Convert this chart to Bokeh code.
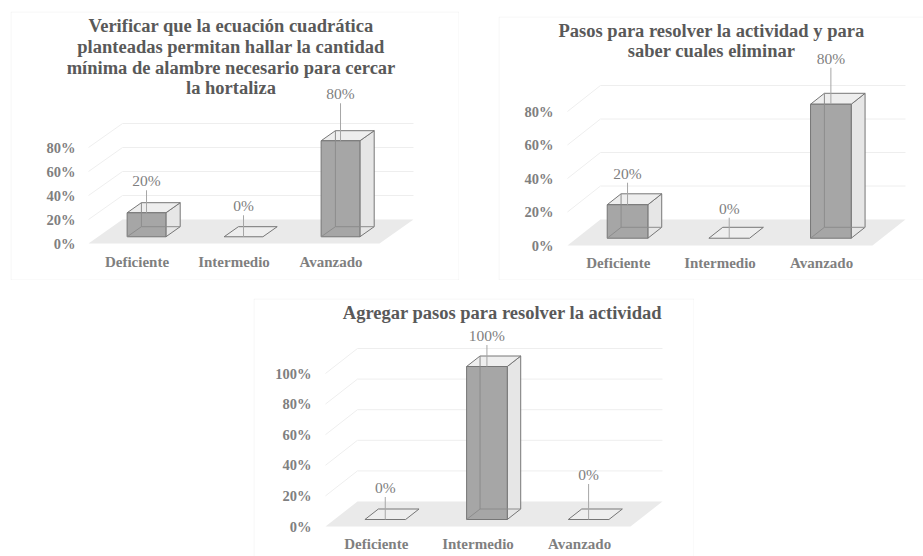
from bokeh.plotting import figure
from bokeh.models import (ColumnDataSource, FixedTicker, NumeralTickFormatter, Range1d,
                          LabelSet, Label, BoxAnnotation, Spacer)
from bokeh.layouts import row, column
from bokeh.core.properties import value
from bokeh.embed import file_html
from bokeh.resources import INLINE

# ---------------- data ----------------
categories = ["Deficiente", "Intermedio", "Avanzado"]

values_1 = [0.20, 0.00, 0.80]
values_2 = [0.20, 0.00, 0.80]
values_3 = [0.00, 1.00, 0.00]

ticks_1 = [0.0, 0.2, 0.4, 0.6, 0.8]
ticks_2 = [0.0, 0.2, 0.4, 0.6, 0.8]
ticks_3 = [0.0, 0.2, 0.4, 0.6, 0.8, 1.0]

title_1 = ["Verificar que la ecuación cuadrática",
           "planteadas permitan hallar la cantidad",
           "mínima de alambre necesario para cercar",
           "la hortaliza"]
title_2 = ["Pasos para resolver la actividad y para",
           "saber cuales eliminar"]
title_3 = ["Agregar pasos para resolver la actividad"]

# ---------------- layout / style (pixels on the page) ----------------
spec_1 = dict(origin=(10, 11), size=(449, 269), x0=136.5, xs=97.0, y0=243.0, ys=120.0,
              dx=34.0, dy=24.0, ylab_right=75, xlab_center=262,
              border=(10.5, 11.5, 458.5, 279.5), title_x=230.5, title_y=[25, 46, 67, 87],
              label_off=[32, 31, 47])
spec_2 = dict(origin=(498, 16), size=(425, 264), x0=617.8, xs=101.67, y0=245.0, ys=167.5,
              dx=33.0, dy=26.0, ylab_right=553, xlab_center=263,
              border=(498.5, 16.5, 950.0, 279.5), title_x=711.0, title_y=[30, 50],
              label_off=[31.5, 30, 46])
spec_3 = dict(origin=(253, 298), size=(441, 258), x0=375.8, xs=101.67, y0=526.0, ys=153.0,
              dx=32.0, dy=25.0, ylab_right=311, xlab_center=544,
              border=(253.5, 298.5, 693.5, 600.0), title_x=502.0, title_y=[312],
              label_off=[32, 31, 45])

FONT = "Liberation Serif"
TITLE_COLOR = "#595959"
TEXT_COLOR = "#7f7f7f"
FRONT_FILL = "#a6a6a6"
SIDE_FILL = "#e6e6e6"
TOP_FILL = "#eeeeee"
EDGE = "#767676"
HIDDEN_EDGE = "#8c8c8c"
FLOOR = "#eaeaea"
GRID = "#eeeeee"
BORDER = "#d9d9d9"
BW, ZF, ZB = 0.40, 0.28, 0.70


def make_chart(vals, ticks, title_lines, s):
    ox, oy = s["origin"]
    W, H = s["size"]
    x0, xs, y0, ys = s["x0"], s["xs"], s["y0"], s["ys"]

    def U(px):
        return (px - x0) / xs

    def V(py):
        return (y0 - py) / ys

    # the frame covers the whole canvas; axes are drawn into it
    p = figure(width=W, height=H, output_backend="svg", toolbar_location=None,
               x_range=Range1d(U(ox), U(ox + W)), y_range=Range1d(V(oy + H), V(oy)),
               min_border_left=0, min_border_right=0, min_border_top=0, min_border_bottom=0)
    p.outline_line_color = None
    p.background_fill_color = "white"
    p.border_fill_color = "white"
    p.xgrid.visible = False
    p.ygrid.visible = False

    DX = s["dx"] / xs
    DY = s["dy"] / ys

    def P(u, v, z):
        return (u + z * DX, v + z * DY)

    def poly(pts):
        return [q[0] for q in pts], [q[1] for q in pts]

    n = len(categories)
    lo, hi = -0.5, n - 0.5

    # floor
    fx, fy = poly([P(lo, 0, 0), P(hi, 0, 0), P(hi, 0, 1), P(lo, 0, 1)])
    p.patch(fx, fy, fill_color=FLOOR, line_color=None)

    # gridlines on back wall and left side wall
    gx, gy = [], []
    for t in ticks:
        if t == 0:
            continue
        a, b, c = P(lo, t, 0), P(lo, t, 1), P(hi, t, 1)
        gx.append([a[0], b[0], c[0]])
        gy.append([a[1], b[1], c[1]])
    p.multi_line(gx, gy, line_color=GRID, line_width=1)

    # bars (3D boxes)
    front, side, top, plate, hidden = [], [], [], [], []
    for i, val in enumerate(vals):
        u0, u1 = i - BW / 2, i + BW / 2
        if val > 0:
            front.append(poly([P(u0, 0, ZF), P(u1, 0, ZF), P(u1, val, ZF), P(u0, val, ZF)]))
            side.append(poly([P(u1, 0, ZF), P(u1, 0, ZB), P(u1, val, ZB), P(u1, val, ZF)]))
            top.append(poly([P(u0, val, ZF), P(u1, val, ZF), P(u1, val, ZB), P(u0, val, ZB)]))
            hidden.append(poly([P(u0, 0, ZB), P(u0, val, ZB)]))
            hidden.append(poly([P(u0, 0, ZB), P(u1, 0, ZB)]))
            hidden.append(poly([P(u0, 0, ZF), P(u0, 0, ZB)]))
        else:
            plate.append(poly([P(u0, 0, ZF), P(u1, 0, ZF), P(u1, 0, ZB), P(u0, 0, ZB)]))

    def draw(polys, fill):
        if polys:
            src = ColumnDataSource(dict(xs=[q[0] for q in polys], ys=[q[1] for q in polys]))
            p.patches("xs", "ys", source=src, fill_color=fill, line_color=EDGE, line_width=1)

    draw(side, SIDE_FILL)
    draw(top, TOP_FILL)
    draw(plate, TOP_FILL)
    draw(front, FRONT_FILL)
    if hidden:
        p.multi_line([q[0] for q in hidden], [q[1] for q in hidden],
                     line_color=HIDDEN_EDGE, line_width=1)

    # data labels with leader lines
    lx, ly, ltxt, sx0, sy0, sy1 = [], [], [], [], [], []
    for i, val in enumerate(vals):
        xpos, vtop = P(i, val, ZF)
        off = s["label_off"][i]
        lx.append(xpos)
        ly.append(vtop + off / ys)
        ltxt.append(f"{round(val * 100)}%")
        sx0.append(xpos)
        sy0.append(vtop)
        sy1.append(vtop + (off - 9.5) / ys)
    p.segment(sx0, sy0, sx0, sy1, line_color="#a6a6a6", line_width=1)
    lab_src = ColumnDataSource(dict(x=lx, y=ly, t=ltxt))
    p.add_layout(LabelSet(x="x", y="y", text="t", source=lab_src,
                          text_align="center", text_baseline="middle",
                          text_font=value(FONT), text_font_size="15.5px",
                          text_color=TEXT_COLOR))

    # axes (labels pulled into the canvas with negative standoffs)
    p.yaxis.ticker = FixedTicker(ticks=ticks)
    p.yaxis.formatter = NumeralTickFormatter(format="0%")
    p.xaxis.ticker = FixedTicker(ticks=list(range(n)))
    p.xaxis.major_label_overrides = {i: c for i, c in enumerate(categories)}
    for ax in (p.xaxis, p.yaxis):
        ax.axis_line_color = None
        ax.major_tick_line_color = None
        ax.minor_tick_line_color = None
        ax.major_tick_out = 0
        ax.major_tick_in = 0
        ax.minor_tick_out = 0
        ax.major_label_text_font = FONT
        ax.major_label_text_font_style = "bold"
        ax.major_label_text_color = TEXT_COLOR
    p.yaxis.major_label_text_font_size = "14.5px"
    p.yaxis.major_label_standoff = -(s["ylab_right"] - ox)
    p.xaxis.major_label_text_font_size = "15px"
    p.xaxis.major_label_standoff = (s["xlab_center"] - 9 - oy) - H

    # title lines
    for line, ty in zip(title_lines, s["title_y"]):
        p.add_layout(Label(x=U(s["title_x"]), y=V(ty), text=line,
                           text_align="center", text_baseline="middle",
                           text_font=FONT, text_font_style="bold",
                           text_font_size="18.5px", text_color=TITLE_COLOR))

    # chart area border
    bl, bt, br, bb = s["border"]
    p.add_layout(BoxAnnotation(left=U(bl), right=U(br), top=V(bt), bottom=V(bb),
                               fill_color=None, fill_alpha=0,
                               line_color=BORDER, line_width=1))
    return p


p1 = make_chart(values_1, ticks_1, title_1, spec_1)
p2 = make_chart(values_2, ticks_2, title_2, spec_2)
p3 = make_chart(values_3, ticks_3, title_3, spec_3)

top_row = row(Spacer(width=10), column(Spacer(height=11), p1), Spacer(width=39),
              column(Spacer(height=16), p2))
bottom_row = row(Spacer(width=253), p3)
layout = column(top_row, Spacer(height=18), bottom_row)

open("out.html", "w").write(file_html(layout, INLINE))
